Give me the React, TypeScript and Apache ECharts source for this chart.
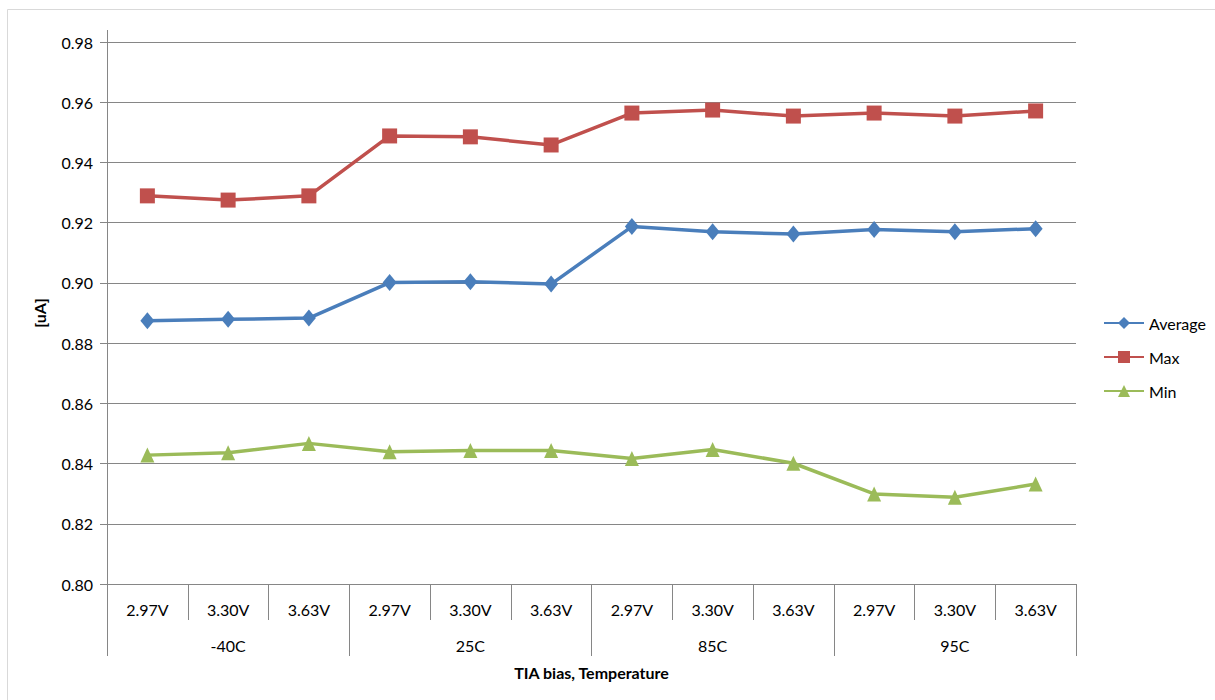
import React, { useEffect, useRef } from "react";
import * as echarts from "echarts";

// Bias voltages, repeated for each temperature group
const voltages = ["2.97V", "3.30V", "3.63V"];
const temperatures = ["-40C", "25C", "85C", "95C"];
const categories = temperatures.flatMap(() => voltages);

const averageValues = [0.8874, 0.8879, 0.8883, 0.9001, 0.9004, 0.8996, 0.9187, 0.917, 0.9162, 0.9177, 0.917, 0.918];
const maxValues = [0.9289, 0.9275, 0.9289, 0.9488, 0.9485, 0.9458, 0.9564, 0.9574, 0.9554, 0.9564, 0.9554, 0.9571];
const minValues = [0.8428, 0.8436, 0.8467, 0.8439, 0.8443, 0.8443, 0.8417, 0.8447, 0.8401, 0.8299, 0.8288, 0.8332];

const yMin = 0.8;
const yMax = 0.98;
const yStep = 0.02;

const FONT = "Lato, 'Open Sans', sans-serif";
const AXIS_GRAY = "#868686";

export default function App() {
  const ref = useRef<HTMLDivElement>(null);

  useEffect(() => {
    if (!ref.current) return;
    const chart = echarts.init(ref.current, null, { renderer: "svg" });

    const lineSeries = (name: string, data: number[], color: string, symbol: string, size: number | number[]) => ({
      name,
      type: "line",
      data,
      xAxisIndex: 0,
      yAxisIndex: 0,
      symbol,
      symbolSize: size,
      lineStyle: { color, width: 3.5 },
      itemStyle: { color },
      emphasis: { disabled: true },
    });

    chart.setOption({
      animation: false,
      backgroundColor: "#ffffff",
      textStyle: { fontFamily: FONT },
      grid: { left: 107, right: 139, top: 42, bottom: 116, containLabel: false },
      legend: {
        orient: "vertical",
        left: 1098,
        top: 310,
        itemGap: 18,
        itemWidth: 40,
        itemHeight: 15,
        textStyle: { fontFamily: FONT, fontSize: 16, color: "#000" },
        data: ["Average", "Max", "Min"],
      },
      xAxis: [
        {
          type: "category",
          data: categories,
          boundaryGap: true,
          position: "bottom",
          axisLine: { show: true, lineStyle: { color: AXIS_GRAY, width: 1 } },
          axisTick: { show: true, interval: 0, length: 36, lineStyle: { color: AXIS_GRAY } },
          axisLabel: { interval: 0, margin: 17, fontFamily: FONT, fontSize: 16, color: "#000" },
          splitLine: { show: false },
        },
        {
          type: "category",
          data: temperatures,
          boundaryGap: true,
          position: "bottom",
          axisLine: { show: false },
          axisTick: { show: true, interval: 0, length: 72, lineStyle: { color: AXIS_GRAY } },
          axisLabel: { interval: 0, margin: 53, fontFamily: FONT, fontSize: 16, color: "#000" },
          splitLine: { show: false },
          name: "TIA bias, Temperature",
          nameLocation: "middle",
          nameGap: 80,
          nameTextStyle: { fontFamily: FONT, fontSize: 16, fontWeight: "bold", color: "#000" },
        },
      ],
      yAxis: {
        type: "value",
        min: yMin,
        max: yMax,
        interval: yStep,
        name: "[uA]",
        nameLocation: "middle",
        nameGap: 60,
        nameRotate: 90,
        nameTextStyle: { fontFamily: FONT, fontSize: 16, fontWeight: "bold", color: "#000" },
        axisLine: { show: true, lineStyle: { color: AXIS_GRAY, width: 1 } },
        axisTick: { show: true, inside: false, length: 7, lineStyle: { color: AXIS_GRAY } },
        axisLabel: {
          margin: 14,
          fontFamily: FONT,
          fontSize: 16,
          color: "#000",
          formatter: (v: number) => v.toFixed(2),
        },
        splitLine: { show: true, lineStyle: { color: AXIS_GRAY, width: 1 } },
      },
      graphic: [
        {
          type: "rect",
          shape: { x: 7.5, y: 9.5, width: 1230, height: 720 },
          style: { fill: "none", stroke: "#d9d9d9", lineWidth: 1 },
          silent: true,
        },
        {
          type: "line",
          shape: { x1: 107.5, y1: 30, x2: 107.5, y2: 42 },
          style: { stroke: AXIS_GRAY, lineWidth: 1 },
          silent: true,
        },
      ],
      series: [
        lineSeries("Average", averageValues, "#4a7ebb", "diamond", [14, 17]),
        lineSeries("Max", maxValues, "#c0504d", "rect", 15),
        lineSeries("Min", minValues, "#9bbb59", "triangle", [14, 15]),
      ],
    });

    return () => chart.dispose();
  }, []);

  return (
    <div
      ref={ref}
      style={{ position: "fixed", left: 0, top: 0, width: 1215, height: 700, background: "#fff" }}
    />
  );
}
